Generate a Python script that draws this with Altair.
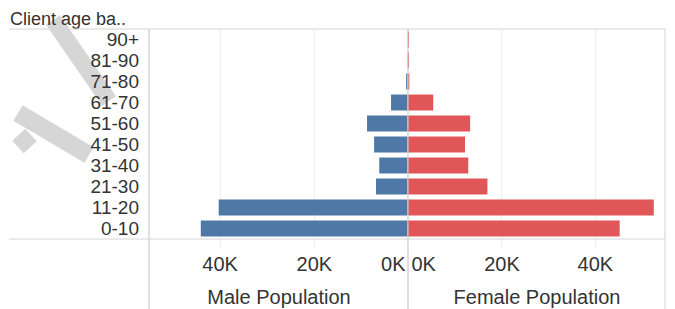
import altair as alt
import pandas as pd

# ---- data ----
ages = ["0-10", "11-20", "21-30", "31-40", "41-50", "51-60", "61-70", "71-80", "81-90", "90+"]
male = [44000, 40200, 6800, 6100, 7200, 8700, 3600, 400, 80, 50]
female = [45300, 52600, 17000, 12900, 12200, 13300, 5400, 300, 200, 200]
tick_values = [0, 20000, 40000]
header_text = "Client age ba.."
male_title = "Male Population"
female_title = "Female Population"

df = pd.DataFrame({"age": ages, "male": male, "female": female})
order = ages[::-1]
one = pd.DataFrame({"k": [0]})

FONT = "Liberation Sans"
TXT = "#333333"
LINE = "#d4d4d4"
GRID = "#efefef"
WATER = "#d6d6d6"
FS = 20

H = 210
WL, WM, WF = 140, 259, 257
BOTTOM = 280

yscale = alt.Scale(domain=order, paddingInner=0.24, paddingOuter=0.12)


def rule(x1, x2, y1, y2, color=LINE, w=1, opacity=1):
    return alt.Chart(one).mark_rule(color=color, strokeWidth=w, opacity=opacity).encode(
        x=alt.value(x1), x2=alt.value(x2), y=alt.value(y1), y2=alt.value(y2)
    )


def frame(width):
    return [
        rule(0, width, 0, 0),
        rule(0, width, H, H),
        rule(width, width, 0, BOTTOM),
    ]


# ---- row header panel (with the light grey watermark strokes) ----
stripes = [
    rule(44, 100, -9, 72, WATER, 17),
    rule(9, 80, 84, 126, WATER, 18),
    rule(22, 9, 106, 118, WATER, 17),
]
anchor = rule(0, 2, -21, -21, "white", 0.5, 0)
labels = alt.Chart(df).mark_text(
    align="right", baseline="middle", fontSize=19, font=FONT, color=TXT
).encode(
    y=alt.Y("age:N", scale=yscale, axis=None),
    x=alt.value(130),
    text="age:N",
)
header = alt.Chart(one).mark_text(
    align="left", baseline="alphabetic", fontSize=18, font=FONT, color=TXT
).encode(x=alt.value(1), y=alt.value(-4), text=alt.value(header_text))

label_panel = alt.layer(anchor, *stripes, labels, header, *frame(WL)).properties(width=WL, height=H)


def axis(title):
    return alt.Axis(
        values=tick_values,
        labelExpr="datum.value / 1000 + 'K'",
        title=title,
        grid=True,
        gridColor=GRID,
        tickColor=GRID,
        tickSize=8,
        domain=False,
        labelFontSize=FS,
        labelFont=FONT,
        labelColor=TXT,
        labelPadding=7,
        labelFlush=True,
        labelFlushOffset=-3,
        titleFontSize=FS,
        titleFont=FONT,
        titleColor=TXT,
        titleFontWeight="normal",
        titleBaseline="alphabetic",
        titleY=64,
    )


male_bars = alt.Chart(df).mark_bar(color="#4e79a7").encode(
    y=alt.Y("age:N", scale=yscale, axis=None),
    x=alt.X("male:Q", scale=alt.Scale(domain=[0, 55000], reverse=True, nice=False), axis=axis(male_title)),
)
male_panel = alt.layer(male_bars, rule(0, 0, 0, BOTTOM), *frame(WM)).properties(width=WM, height=H)

female_bars = alt.Chart(df).mark_bar(color="#e15759").encode(
    y=alt.Y("age:N", scale=yscale, axis=None),
    x=alt.X("female:Q", scale=alt.Scale(domain=[0, 55000], nice=False), axis=axis(female_title)),
)
female_panel = alt.layer(female_bars, rule(0, 0, 0, BOTTOM), *frame(WF)).properties(width=WF, height=H)

chart = (
    alt.hconcat(label_panel, male_panel, female_panel, spacing=0, bounds="flush")
    .properties(padding=0, background="white")
    .configure_view(stroke=None)
)

chart.save("out.html", embed_options={"renderer": "svg", "actions": False})
